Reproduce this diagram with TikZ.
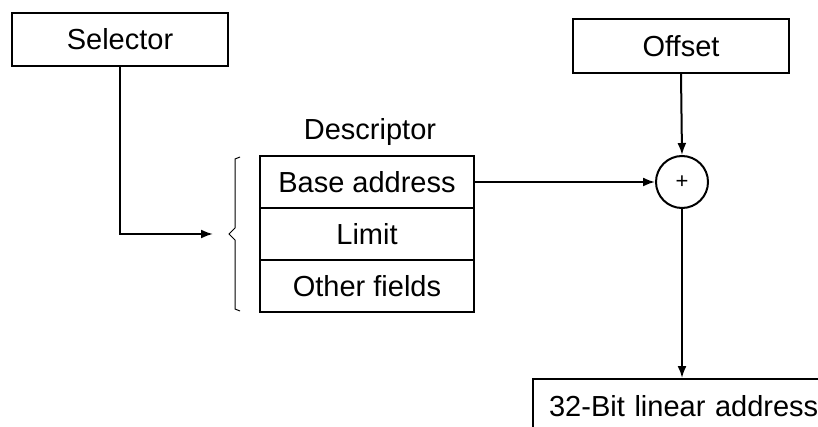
\documentclass[tikz,border=0pt]{standalone}
\usepackage{fontspec}
\setmainfont{Liberation Sans}
\usetikzlibrary{arrows.meta}
\begin{document}
\begin{tikzpicture}[x=1pt,y=-1pt,
  txt/.style={font=\fontsize{29}{34}\selectfont},
  boxnode/.style={draw,line width=2.2pt,rectangle,inner sep=0pt,txt},
  conn/.style={line width=2pt,-{Latex[length=12pt,width=9pt]}},
  plain/.style={line width=2pt}]
\useasboundingbox (0,0) rectangle (818,427);
\clip (0,0) rectangle (818,427);
% boxes
\node[boxnode,minimum width=216pt,minimum height=53pt] (sel) at (120,39.5) {Selector};
\node[boxnode,minimum width=216pt,minimum height=54pt] (off) at (681,46) {Offset};
\node[txt] (desc) at (370,132) {Descriptor};
\node[boxnode,minimum width=214pt,minimum height=52pt] (base) at (367,182) {Base address};
\node[boxnode,minimum width=214pt,minimum height=52pt] (lim) at (367,234) {Limit};
\node[boxnode,minimum width=214pt,minimum height=52pt] (oth) at (367,286) {Other fields};
\node[draw,circle,line width=2pt,minimum size=52pt,inner sep=0pt,font=\fontsize{22}{24}\selectfont] (plus) at (682,182) {+};
\node[boxnode,minimum width=310pt,minimum height=66pt,anchor=north west,text width=300pt,align=left,inner xsep=0pt] (lin) at (532,378) {\hspace*{11pt}\raisebox{12pt}{32-Bit linear address}};
% brace
\coordinate (bt) at (240,157);
\coordinate (bb) at (240,311);
\coordinate (bn) at (229,234);
\draw[line width=1pt] (bt) -- (235,159) -- (235,228) -- (bn) -- (235,240) -- (235,309) -- (bb);
\coordinate (selend) at (213,234);
% connectors
\draw[conn] (sel.south) |- (selend);
\draw[conn] (base.east) -- (plus.west);
\draw[conn] (off.south) -- (plus.north);
\draw[conn] (plus.south) -- (lin.north -| plus.south);
\end{tikzpicture}
\end{document}
